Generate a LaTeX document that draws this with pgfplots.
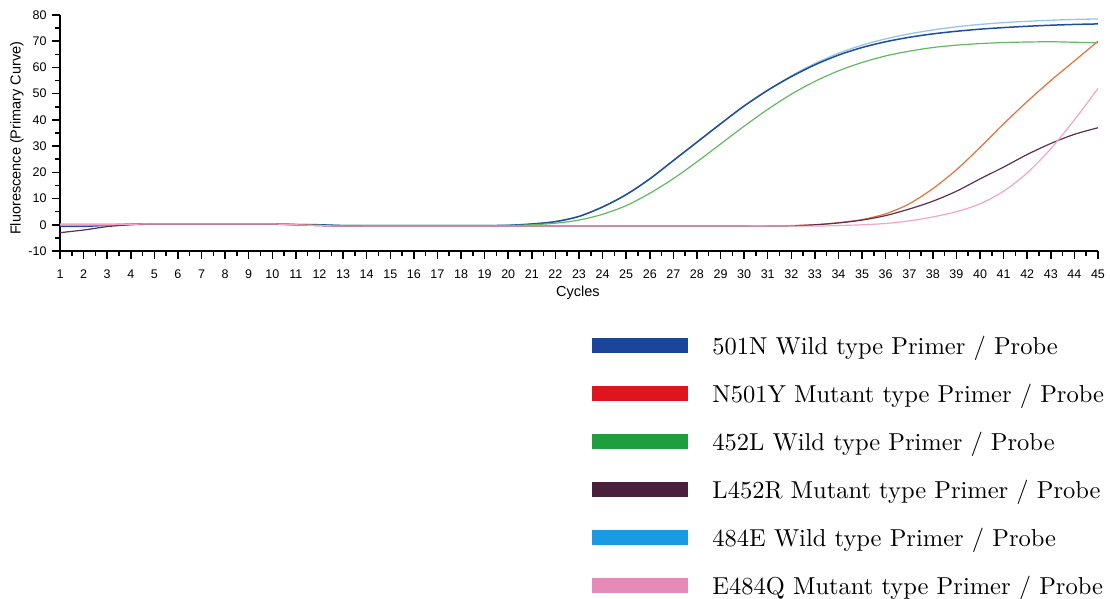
\documentclass[border=0pt]{standalone}
\usepackage{fontspec}
\usepackage{pgfplots}
\pgfplotsset{compat=1.18}
\newfontfamily\arialfont{Liberation Sans}
\newfontfamily\legfont{lmroman10-regular}[Extension=.otf]
\definecolor{cBlue}{HTML}{1F4E9E}
\definecolor{cLBlue}{HTML}{96C4EA}
\definecolor{cGreen}{HTML}{62B864}
\definecolor{cOrange}{HTML}{E8713A}
\definecolor{cPurple}{HTML}{5C2E50}
\definecolor{cPink}{HTML}{F2A6C6}
\definecolor{lBlue}{HTML}{1A459B}
\definecolor{lRed}{HTML}{E0141E}
\definecolor{lGreen}{HTML}{1E9E3C}
\definecolor{lPurple}{HTML}{4A1F3C}
\definecolor{lLBlue}{HTML}{1A9AE0}
\definecolor{lPink}{HTML}{E58AB9}
\begin{document}
\begin{tikzpicture}
\useasboundingbox (0pt,0pt) rectangle (1110pt,-599pt);
\begin{axis}[
  at={(60pt,-251pt)}, anchor=south west,
  scale only axis, width=1038pt, height=236pt,
  xmin=1, xmax=45, ymin=-10, ymax=80,
  axis x line=bottom, axis y line=left,
  axis line style={line width=1.8pt, -},
  xtick={1,...,45}, ytick={-10,0,...,80},
  minor x tick num=1, minor y tick num=1,
  tick align=outside,
  major tick length=8pt, minor tick length=5pt,
  tick style={black, line width=1.5pt},
  tick label style={font=\arialfont\fontsize{12.5}{13}\selectfont},
  xticklabel style={yshift=-7pt},
  yticklabel style={xshift=-2pt},
  /pgf/number format/assume math mode=true,
  xlabel={Cycles}, ylabel={Fluorescence (Primary Curve)},
  label style={font=\arialfont\fontsize{14.5}{15}\selectfont},
  xlabel style={at={(axis description cs:0.499,-0.178)}, anchor=center},
  ylabel style={at={(axis description cs:-0.0415,0.478)}, anchor=center},
  clip=false,
  legend style={at={(axis description cs:0.5123,-0.3666)}, anchor=north west,
    draw=none, fill=none, inner sep=0pt, row sep=31.0pt,
    nodes={inner sep=0pt, font=\legfont\fontsize{24.5}{25}\selectfont, text height=17pt, text depth=0pt},
    /tikz/every odd column/.append style={column sep=24.5pt}},
  legend cell align=left,
  legend image code/.code={\fill[#1, draw=none] (0pt,-6.8pt) rectangle (96pt,8.4pt);},
]
\addplot[cLBlue, line width=1.3pt, smooth, forget plot] coordinates {
(1,0.3)(2,0.3)(3,0.3)(4,0.2)(5,0.3)(6,0.3)(7,0.3)(8,0.3)(9,0.3)(10,0.3)(11,0.1)(12,0)(13,-0.3)(14,-0.3)(15,-0.3)(16,-0.3)(17,-0.3)(18,-0.3)(19,-0.3)(20,-0.2)
(21,0.3)(22,1.2)(23,3.2)(24,6.8)(25,11.5)(26,17.5)(27,24.5)(28,31.5)(29,38.5)(30,45.3)(31,51.3)(32,56.8)(33,61.5)(34,65.4)(35,68.5)(36,70.9)(37,72.8)(38,74.3)(39,75.5)(40,76.4)(41,77.1)(42,77.6)(43,78)(44,78.3)(45,78.5)};
\addplot[cBlue, line width=1.5pt, smooth, forget plot] coordinates {
(1,-0.6)(2,-0.6)(3,-0.2)(4,0.2)(5,0.3)(6,0.3)(7,0.3)(8,0.3)(9,0.3)(10,0.3)(11,0.1)(12,0)(13,-0.3)(14,-0.3)(15,-0.3)(16,-0.3)(17,-0.3)(18,-0.3)(19,-0.3)(20,-0.2)
(21,0.3)(22,1.2)(23,3.2)(24,6.8)(25,11.5)(26,17.5)(27,24.5)(28,31.5)(29,38.5)(30,45.3)(31,51.3)(32,56.5)(33,61)(34,64.7)(35,67.6)(36,69.8)(37,71.5)(38,72.8)(39,73.8)(40,74.6)(41,75.2)(42,75.7)(43,76.1)(44,76.4)(45,76.6)};
\addplot[cGreen, line width=1.2pt, smooth, forget plot] coordinates {
(1,0)(2,0)(3,0)(4,0.2)(5,0.3)(6,0.3)(7,0.3)(8,0.3)(9,0.3)(10,0.3)(11,0.1)(12,-0.2)(13,-0.3)(14,-0.3)(15,-0.3)(16,-0.3)(17,-0.3)(18,-0.3)(19,-0.3)(20,-0.3)
(21,0)(22,0.6)(23,1.8)(24,4)(25,7.3)(26,12)(27,17.6)(28,24)(29,30.8)(30,37.6)(31,44)(32,49.8)(33,54.7)(34,58.7)(35,61.9)(36,64.4)(37,66.2)(38,67.6)(39,68.5)(40,69.1)(41,69.5)(42,69.7)(43,69.8)(44,69.6)(45,69.4)};
\addplot[cOrange, line width=1.2pt, smooth, forget plot] coordinates {
(1,0)(2,0)(3,0)(4,0.2)(5,0.3)(6,0.3)(7,0.3)(8,0.3)(9,0.3)(10,0.3)(11,0)(12,-0.3)(13,-0.5)(14,-0.5)(15,-0.5)(16,-0.5)(17,-0.5)(18,-0.5)(19,-0.5)(20,-0.5)
(21,-0.5)(22,-0.5)(23,-0.5)(24,-0.5)(25,-0.5)(26,-0.5)(27,-0.5)(28,-0.5)(29,-0.5)(30,-0.5)(31,-0.5)(32,-0.3)(33,0)(34,0.8)(35,2)(36,4.2)(37,8)(38,13.8)(39,21)(40,29.5)(41,38.5)(42,47)(43,55)(44,62.5)(45,70)};
\addplot[cPurple, line width=1.2pt, smooth, forget plot] coordinates {
(1,-3)(2,-2)(3,-0.7)(4,0)(5,0.2)(6,0.2)(7,0.2)(8,0.2)(9,0.2)(10,0.2)(11,0)(12,-0.3)(13,-0.5)(14,-0.5)(15,-0.5)(16,-0.5)(17,-0.5)(18,-0.5)(19,-0.5)(20,-0.5)
(21,-0.5)(22,-0.5)(23,-0.5)(24,-0.5)(25,-0.5)(26,-0.5)(27,-0.5)(28,-0.5)(29,-0.5)(30,-0.5)(31,-0.5)(32,-0.4)(33,0)(34,0.7)(35,1.8)(36,3.5)(37,6)(38,9)(39,12.8)(40,17.5)(41,22)(42,26.8)(43,31)(44,34.5)(45,37)};
\addplot[cPink, line width=1.2pt, smooth, forget plot] coordinates {
(1,0)(2,0)(3,0)(4,0.2)(5,0.3)(6,0.3)(7,0.3)(8,0.3)(9,0.3)(10,0.3)(11,0)(12,-0.3)(13,-0.5)(14,-0.5)(15,-0.5)(16,-0.5)(17,-0.5)(18,-0.5)(19,-0.5)(20,-0.5)
(21,-0.5)(22,-0.5)(23,-0.5)(24,-0.5)(25,-0.5)(26,-0.5)(27,-0.5)(28,-0.5)(29,-0.5)(30,-0.5)(31,-0.5)(32,-0.5)(33,-0.5)(34,-0.3)(35,0)(36,0.5)(37,1.5)(38,3)(39,5)(40,8)(41,12.8)(42,19.8)(43,29)(44,40)(45,52)};
\addlegendimage{fill=lBlue}
\addlegendentry{501N Wild type Primer / Probe}
\addlegendimage{fill=lRed}
\addlegendentry{N501Y Mutant type Primer / Probe}
\addlegendimage{fill=lGreen}
\addlegendentry{452L Wild type Primer / Probe}
\addlegendimage{fill=lPurple}
\addlegendentry{L452R Mutant type Primer / Probe}
\addlegendimage{fill=lLBlue}
\addlegendentry{484E Wild type Primer / Probe}
\addlegendimage{fill=lPink}
\addlegendentry{E484Q Mutant type Primer / Probe}
\end{axis}
\end{tikzpicture}
\end{document}
